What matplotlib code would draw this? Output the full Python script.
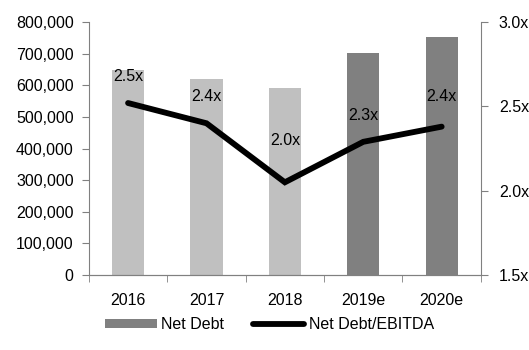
import matplotlib
matplotlib.use("Agg")
import matplotlib.pyplot as plt
from matplotlib.ticker import FuncFormatter
from matplotlib.patches import Patch
from matplotlib.lines import Line2D

categories = ["2016", "2017", "2018", "2019e", "2020e"]
net_debt = [648000, 620000, 591000, 702000, 753000]
ratio = [2.52, 2.40, 2.05, 2.29, 2.38]
ratio_labels = ["2.5x", "2.4x", "2.0x", "2.3x", "2.4x"]
bar_colors = ["#C0C0C0", "#C0C0C0", "#C0C0C0", "#808080", "#808080"]
label_offsets = [19, 19, 30, 19, 22]  # points above line

plt.rcParams['font.family'] = ['Liberation Sans', 'DejaVu Sans']
fig = plt.figure(figsize=(5.29, 3.5), dpi=100)
ax = fig.add_axes([0.168, 0.214, 0.741, 0.723])
ax2 = ax.twinx()

x = list(range(len(categories)))
ax.bar(x, net_debt, width=0.41, color=bar_colors, zorder=2)
ax.set_xlim(-0.5, len(categories) - 0.5)
ax.set_ylim(0, 800000)
ax.set_yticks(range(0, 800001, 100000))
ax.yaxis.set_major_formatter(FuncFormatter(lambda v, p: f"{int(v):,}"))
ax.set_xticks(x)
ax.set_xticklabels(categories)
ax.set_xticks([i + 0.5 for i in range(-1, len(categories))], minor=True)
ax.tick_params(axis='x', which='major', length=0, labelsize=11.5, pad=13)
ax.tick_params(axis='x', which='minor', length=5, direction='out', color='#808080')
ax.tick_params(axis='y', length=5, direction='out', color='#808080', labelsize=11.5, pad=6)

ax2.plot(x, ratio, color='black', lw=4.2, solid_capstyle='round', solid_joinstyle='miter', zorder=3)
ax2.set_ylim(1.5, 3.0)
ax2.set_yticks([1.5, 2.0, 2.5, 3.0])
ax2.yaxis.set_major_formatter(FuncFormatter(lambda v, p: f"{v:.1f}x"))
ax2.tick_params(axis='y', length=5, direction='out', color='#808080', labelsize=11.5, pad=8)
for xi, yi, lab, off in zip(x, ratio, ratio_labels, label_offsets):
    ax2.annotate(lab, (xi, yi), xytext=(0, off), textcoords='offset points',
                 ha='center', va='center', fontsize=11.5)

for a in (ax, ax2):
    a.spines['top'].set_visible(False)
    a.spines['left'].set_color('#808080')
    a.spines['right'].set_color('#808080')
    a.spines['bottom'].set_color('#808080')
ax.spines['right'].set_visible(False)
ax2.spines['left'].set_visible(False)

handles = [Patch(facecolor='#808080', edgecolor='none'),
           Line2D([0], [0], color='black', lw=4.2, solid_capstyle='round')]
fig.legend(handles, ["Net Debt", "Net Debt/EBITDA"], loc='center',
           bbox_to_anchor=(0.51, 0.072), ncol=2, frameon=False, fontsize=11.5,
           handlelength=3.2, handleheight=0.55, handletextpad=0.3, columnspacing=1.8)

fig.savefig("out.png", dpi=100)
